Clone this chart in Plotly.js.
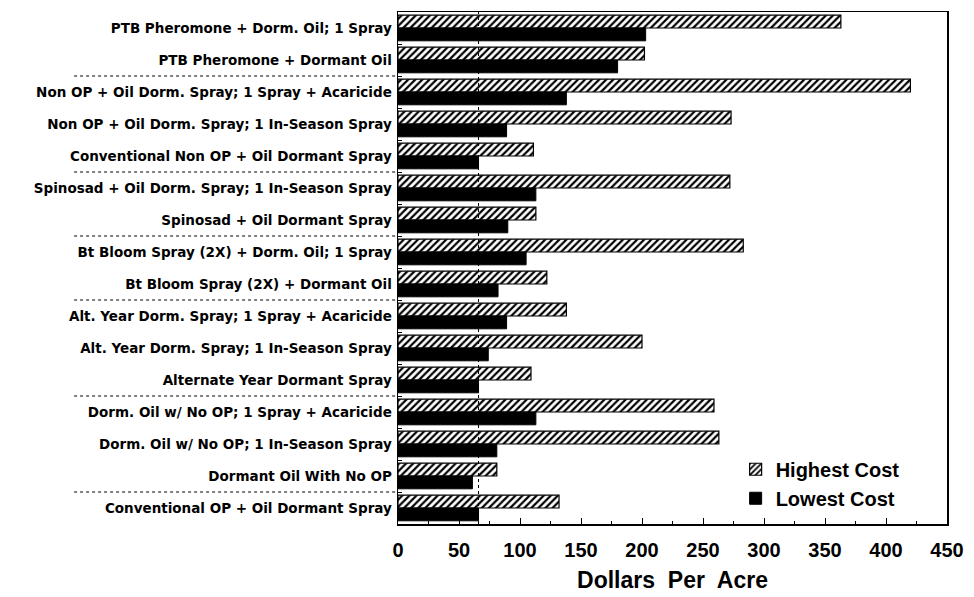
<!DOCTYPE html>
<html>
<head>
<meta charset="utf-8">
<script src="https://cdn.plot.ly/plotly-3.0.1.min.js"></script>
<style>html,body{margin:0;padding:0;background:#fff;} #chart{width:974px;height:597px;}</style>
</head>
<body>
<div id="chart"></div>
<script>
const categories = [
  "PTB Pheromone + Dorm. Oil; 1 Spray",
  "PTB Pheromone + Dormant Oil",
  "Non OP + Oil Dorm. Spray; 1 Spray + Acaricide",
  "Non OP + Oil Dorm. Spray; 1 In-Season Spray",
  "Conventional Non OP + Oil Dormant Spray",
  "Spinosad + Oil Dorm. Spray; 1 In-Season Spray",
  "Spinosad + Oil Dormant Spray",
  "Bt Bloom Spray (2X) + Dorm. Oil; 1 Spray",
  "Bt Bloom Spray (2X) + Dormant Oil",
  "Alt. Year Dorm. Spray; 1 Spray + Acaricide",
  "Alt. Year Dorm. Spray; 1 In-Season Spray",
  "Alternate Year Dormant Spray",
  "Dorm. Oil w/ No OP; 1 Spray + Acaricide",
  "Dorm. Oil w/ No OP; 1 In-Season Spray",
  "Dormant Oil With No OP",
  "Conventional OP + Oil Dormant Spray"
];
const highestCost = [363, 202, 420, 273, 111, 272, 113, 283, 122, 138, 200, 109, 259, 263, 81, 132];
const lowestCost  = [203, 180, 138, 89, 66, 113, 90, 105, 82, 89, 74, 66, 113, 81, 61, 66];
const referenceCost = 66;
const groupBreaksAfter = [2, 5, 7, 9, 12, 15];
const xTickValues = [0, 50, 100, 150, 200, 250, 300, 350, 400, 450];

const traces = [
  {
    type: "bar", orientation: "h", name: "Highest Cost",
    y: categories, x: highestCost,
    marker: {
      color: "#ffffff",
      pattern: {shape: "/", fgcolor: "#000000", bgcolor: "#ffffff", size: 5, solidity: 0.45},
      line: {color: "#000000", width: 1.2}
    },
    hoverinfo: "x+name"
  },
  {
    type: "bar", orientation: "h", name: "Lowest Cost",
    y: categories, x: lowestCost,
    marker: {color: "#000000", line: {color: "#000000", width: 1}},
    hoverinfo: "x+name"
  }
];

const shapes = [{
  type: "line", xref: "x", yref: "paper",
  x0: referenceCost, x1: referenceCost, y0: 0, y1: 1,
  line: {color: "#000000", width: 1, dash: "dot"}
}];
groupBreaksAfter.forEach(function (n) {
  shapes.push({
    type: "line", xref: "paper", yref: "y",
    x0: -0.59, x1: -0.005, y0: n - 0.5, y1: n - 0.5,
    line: {color: "#000000", width: 1, dash: "dot"}
  });
});

const layout = {
  width: 974, height: 597,
  margin: {l: 398, r: 27, t: 12, b: 73},
  paper_bgcolor: "#ffffff", plot_bgcolor: "#ffffff",
  barmode: "group", bargap: 0.2, bargroupgap: 0,
  showlegend: true,
  legend: {
    x: 0.615, y: 0.145, xanchor: "left", yanchor: "top",
    bgcolor: "rgba(0,0,0,0)", borderwidth: 0,
    font: {family: "Liberation Sans, Arial, sans-serif", size: 20, color: "#000000", weight: "bold"},
    itemwidth: 30, tracegroupgap: 0
  },
  xaxis: {
    range: [0, 450], tickvals: xTickValues, ticktext: xTickValues.map(String),
    showgrid: false, zeroline: false,
    showline: true, linecolor: "#000000", linewidth: 1.5, mirror: true,
    ticks: "inside", ticklen: 6, tickcolor: "#000000",
    minor: {dtick: 25, tick0: 0, ticks: "inside", ticklen: 3, tickcolor: "#000000", showgrid: false},
    ticklabelstandoff: 7,
    tickfont: {family: "Liberation Sans, Arial, sans-serif", size: 20, color: "#000000", weight: "bold"},
    title: {text: "Dollars  Per  Acre", standoff: 12,
      font: {family: "Liberation Sans, Arial, sans-serif", size: 23, color: "#000000", weight: "bold"}}
  },
  yaxis: {
    type: "category", autorange: "reversed",
    showgrid: false, zeroline: false,
    showline: true, linecolor: "#000000", linewidth: 1.5, mirror: true,
    ticks: "inside", tickson: "boundaries", ticklen: 4, tickcolor: "#000000",
    ticklabelstandoff: 2,
    tickfont: {family: "DejaVu Sans, sans-serif", size: 13.5, color: "#000000", weight: "bold"}
  },
  shapes: shapes
};

Plotly.newPlot("chart", traces, layout, {displayModeBar: false, staticPlot: true});
</script>
</body>
</html>
